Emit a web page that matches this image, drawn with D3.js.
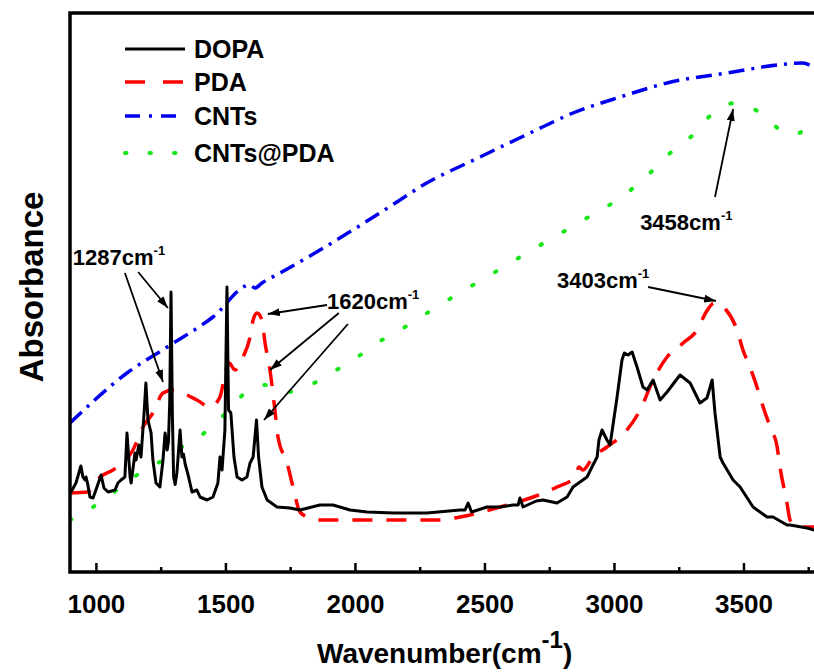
<!DOCTYPE html>
<html><head><meta charset="utf-8">
<script src="https://cdn.jsdelivr.net/npm/d3@7"></script>
<style>html,body{margin:0;padding:0;background:#fff;overflow:hidden}text{font-family:"Liberation Sans",Arial,sans-serif;font-weight:bold;fill:#000}</style>
</head><body><svg id="c" width="814" height="672"></svg>
<script>
// ---- data ----
const dopaWn = [904,923,942,950,958,962,969,977,989,1000,1020,1031,1047,1074,1085,1097,1112,1120,1132,1136,1151,1155,1166,1174,1186,1193,1201,1213,1220,1232,1247,1259,1267,1275,1280,1285,1290,1295,1300,1306,1313,1325,1332,1338,1345,1356,1371,1390,1402,1429,1452,1471,1479,1487,1498,1506,1512,1521,1533,1545,1564,1583,1595,1607,1620,1628,1641,1661,1699,1749,1788,1865,1915,1981,2047,2150,2278,2406,2425,2437,2450,2510,2560,2610,2630,2637,2649,2700,2726,2780,2819,2842,2896,2915,2935,2942,2954,2973,2985,3012,3031,3040,3054,3070,3089,3112,3128,3151,3178,3205,3255,3294,3332,3359,3379,3390,3410,3421,3460,3487,3537,3591,3614,3668,3680,3746,3773,3840];
const dopaAbs = [16,17.8,21.2,19,18.4,19,17.4,15,14.8,16.4,19.4,16.8,16,16.4,17.8,18.4,19,27.8,19,17.8,23.8,22.4,25.4,23,31.8,37.8,30.4,27.8,22.4,17.8,17,22.4,27.8,24.4,26,34,56,32,19,17.5,20,28.4,23,23.6,21.5,19.4,16,16.4,15,14.4,15,17.8,23,20.4,28.4,57,32.4,31.8,23,19,18.4,19,21.8,23,30.4,23,17,14.4,13,12.8,12.4,13.4,13.4,12.4,12,11.8,11.8,12.4,12.4,13.8,12,13,13,13.4,13.4,14.8,13,14.2,14.4,13.8,15,17,19,21,23,26.4,28.4,26.4,25.4,35,42.4,43.8,43.4,44,41,37,36.4,38.4,34.4,36,39.4,37.8,33.8,34.8,38.4,31.8,23,21.8,18.4,17,13,11,11,9.4,9.4,8.8,8.4,8.2];

const pdaWn = [904,966,1016,1066,1105,1143,1182,1220,1259,1298,1352,1390,1441,1479,1500,1514,1537,1568,1595,1607,1622,1641,1653,1672,1691,1703,1738,1761,1788,1827,1865,2317,2406,2560,2688,2780,2850,2865,2880,2919,2973,3050,3101,3151,3205,3267,3321,3356,3387,3433,3475,3498,3525,3556,3576,3603,3630,3641,3668,3680,3719,3773,3840];
const pdaAbs = [15.8,16,19,20.4,21.8,24.4,29,31.8,35.8,36.4,35.4,34.4,33,35,40,41.8,40.4,43,47,50.4,51.8,50.4,45.8,40.4,32.4,27,21.8,17,12,10.8,10.4,10.4,11,13,15,17,19,21,20.4,23,25,28.4,32.4,38.4,43,45.8,48.4,52,53.8,52.4,48.4,44.4,41,36.4,33,29,25,21,13.8,10.4,9,9,9];

const cntWn = [900,1120,1275,1452,1595,1614,1641,1711,1865,2174,2251,2483,2676,2842,3024,3205,3460,3630,3730,3773,3840];
const cntAbs = [29.8,39.8,45,51,57.4,56.8,57.8,59.8,64.4,74.4,77,83,87.8,91.8,95,97.8,100,101.4,101.8,101,100.4];

const cpWn = [900,989,1081,1170,1259,1344,1429,1506,1576,1653,1738,1827,1915,1993,2085,2174,2340,2522,2703,2869,3050,3139,3217,3305,3383,3468,3564,3603,3688,3769,3840];
const cpAbs = [10.4,13,16.4,19.8,22.4,25.4,28.2,32,35.8,37.4,36,37.4,40,42.4,45.8,48.4,53.8,59.4,65,70,75.8,79.8,83.8,87.4,91.8,93.8,91.8,90,87.4,89.4,91];

const seriesNames = ["DOPA","PDA","CNTs","CNTs@PDA"];
const majorTicks = [1000,1500,2000,2500,3000,3500];
const minorTicks = [1250,1750,2250,2750,3250,3750];

// annotations: label, [textWn, textAbs], arrows [[fromWn,fromAbs],[toWn,toAbs]]
const annLabels = ["1287","1620","3458","3403"];
const annText = [[911,61.4],[1892,52.6],[3101,68.4],[2780,56.8]];
const annArrows = [
  [[[1112,59.8],[1259,38]],[[1163,60],[1278,52.8]]],
  [[[1892,53.4],[1664,51.6]],[[1938,51.8],[1672,40.4]],[[1973,49.6],[1649,30.4]]],
  [[[3390,75],[3460,92.6]]],
  [[[3132,57],[3394,54.2]]]
];

// ---- layout ----
const svg = d3.select("#c");
const L = 70, T = 13, B = 572, R = 873;
const x = d3.scaleLinear().domain([900,4000]).range([L,R]);
const y = d3.scaleLinear().domain([0,111.8]).range([B,T]);

svg.append("defs").append("clipPath").attr("id","clip")
  .append("rect").attr("x",L).attr("y",T).attr("width",R-L).attr("height",B-T);
const mk = svg.select("defs").append("marker").attr("id","ah")
  .attr("viewBox","0 0 12 8").attr("refX",12).attr("refY",4)
  .attr("markerWidth",12).attr("markerHeight",8)
  .attr("markerUnits","userSpaceOnUse").attr("orient","auto");
mk.append("path").attr("d","M0,0L12,4L0,8Z").attr("fill","#000");

const styles = [
  {color:"#000000", w:3, dash:null, cap:"butt"},
  {color:"#ff0000", w:3.5, dash:"20,14", cap:"butt"},
  {color:"#0000ee", w:3.5, dash:"16,7,3,7", cap:"butt"},
  {color:"#19e619", w:4, dash:"1.5,25", cap:"round"}
];
const data = [
  dopaWn.map((d,i)=>[d,dopaAbs[i]]),
  pdaWn.map((d,i)=>[d,pdaAbs[i]]),
  cntWn.map((d,i)=>[d,cntAbs[i]]),
  cpWn.map((d,i)=>[d,cpAbs[i]])
];
const lineLin = d3.line().x(d=>x(d[0])).y(d=>y(d[1]));
const lineSm = d3.line().x(d=>x(d[0])).y(d=>y(d[1])).curve(d3.curveMonotoneX);

const g = svg.append("g").attr("clip-path","url(#clip)");
[3,2,1,0].forEach(i=>{
  const s = styles[i];
  g.append("path").datum(data[i])
    .attr("d", i===0 ? lineLin : lineSm)
    .attr("fill","none").attr("stroke",s.color).attr("stroke-width",s.w)
    .attr("stroke-linejoin","round").attr("stroke-linecap",s.cap)
    .attr("stroke-dasharray",s.dash);
});

// axes
const xAxis = d3.axisBottom(x).tickValues(majorTicks).tickSizeInner(-9).tickSizeOuter(0).tickFormat(d3.format("d")).tickPadding(14);
const ax = svg.append("g").attr("transform",`translate(0,${B})`).call(xAxis);
ax.select(".domain").remove();
ax.selectAll(".tick line").attr("stroke","#000").attr("stroke-width",2.5);
ax.selectAll(".tick text").attr("font-size",26).attr("dy","0.71em").attr("y",23).style("font-family",'"Liberation Sans",Arial,sans-serif').style("font-weight","bold");
const axMin = d3.axisBottom(x).tickValues(minorTicks).tickSizeInner(-5).tickSizeOuter(0).tickFormat("");
const am = svg.append("g").attr("transform",`translate(0,${B})`).call(axMin);
am.select(".domain").remove();
am.selectAll(".tick line").attr("stroke","#000").attr("stroke-width",2.5);

// frame
svg.append("rect").attr("x",L).attr("y",T).attr("width",R-L).attr("height",B-T)
  .attr("fill","none").attr("stroke","#000").attr("stroke-width",3.5);

// axis titles
const xt = svg.append("text").attr("x",317).attr("y",663).attr("font-size",28);
xt.append("tspan").text("Wavenumber(cm");
xt.append("tspan").text("-1").attr("font-size",24).attr("dy",-15);
xt.append("tspan").text(")").attr("dy",15);
svg.append("text").attr("transform","translate(43,287) rotate(-90)")
  .attr("text-anchor","middle").attr("font-size",33).text("Absorbance");

// legend
const legY = [49,82,116,153];
seriesNames.forEach((n,i)=>{
  const s = styles[i];
  svg.append("line").attr("x1",125).attr("x2",185).attr("y1",legY[i]).attr("y2",legY[i])
    .attr("stroke",s.color).attr("stroke-width",s.w).attr("stroke-linecap",s.cap)
    .attr("stroke-dasharray", i===1 ? "20,18" : i===2 ? "15,9,3,9" : i===3 ? "1.5,23" : null);
  svg.append("text").attr("x",194).attr("y",legY[i]+9).attr("font-size",25).text(n);
});

// annotations
annLabels.forEach((lab,i)=>{
  const t = svg.append("text").attr("x",x(annText[i][0])).attr("y",y(annText[i][1])).attr("font-size",22);
  t.append("tspan").text(lab+"cm");
  t.append("tspan").text("-1").attr("font-size",13).attr("dy",-10);
  annArrows[i].forEach(a=>{
    svg.append("line").attr("x1",x(a[0][0])).attr("y1",y(a[0][1]))
      .attr("x2",x(a[1][0])).attr("y2",y(a[1][1]))
      .attr("stroke","#000").attr("stroke-width",1.8).attr("marker-end","url(#ah)");
  });
});
</script></body></html>
